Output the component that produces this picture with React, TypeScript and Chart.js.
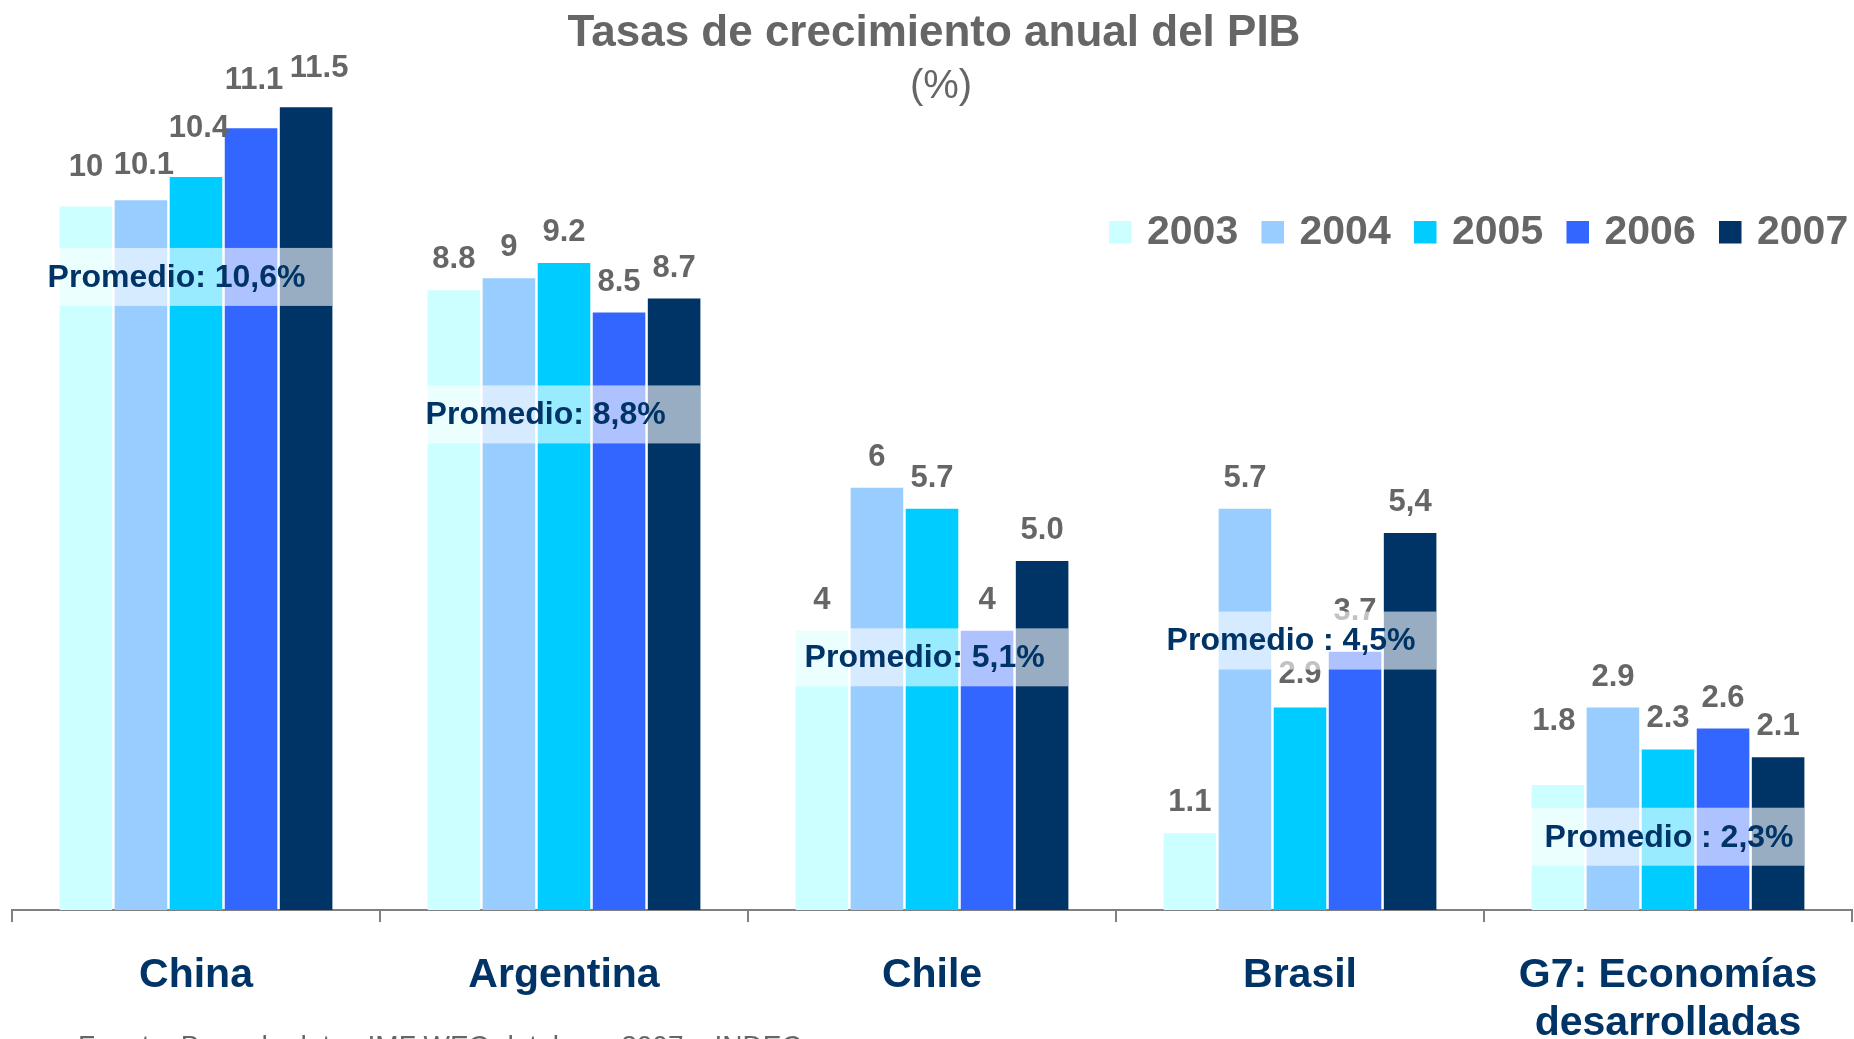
import React, { useEffect, useRef } from "react";
import { Chart, registerables } from "chart.js";

Chart.register(...registerables);

const FONT = "'Liberation Sans', Arial, Helvetica, sans-serif";

const categories: (string | string[])[] = ["China", "Argentina", "Chile", "Brasil", ["G7: Economías", "desarrolladas"]];
const years = ["2003", "2004", "2005", "2006", "2007"];

// bar heights
const values2003 = [10.08, 8.88, 4, 1.1, 1.79];
const values2004 = [10.17, 9.05, 6.05, 5.75, 2.9];
const values2005 = [10.5, 9.27, 5.75, 2.9, 2.3];
const values2006 = [11.2, 8.56, 4, 3.7, 2.6];
const values2007 = [11.5, 8.76, 5.0, 5.4, 2.19];

// printed value labels
const labels2003 = ["10", "8.8", "4", "1.1", "1.8"];
const labels2004 = ["10.1", "9", "6", "5.7", "2.9"];
const labels2005 = ["10.4", "9.2", "5.7", "2.9", "2.3"];
const labels2006 = ["11.1", "8.5", "4", "3.7", "2.6"];
const labels2007 = ["11.5", "8.7", "5.0", "5,4", "2.1"];

const promedioTexts = ["Promedio: 10,6%", "Promedio: 8,8%", "Promedio: 5,1%", "Promedio : 4,5%", "Promedio : 2,3%"];
const promedioAt = [9.07, 7.1, 3.62, 3.86, 1.05];

const titleText = "Tasas de crecimiento anual del PIB";
const subtitleText = "(%)";
const sourceText = "Fuente: Base de datos IMF WEO database 2007 e INDEC";

const colors = ["#CCFFFF", "#99CCFF", "#00CCFF", "#3366FF", "#003366"];
const allValues = [values2003, values2004, values2005, values2006, values2007];
const allLabels = [labels2003, labels2004, labels2005, labels2006, labels2007];

// label placement tweaks (pixels), per year then per category
const labelLift = [
  [8, 0, 0, 0, 33],
  [4, 0, 0, 0, 0],
  [18, 0, 0, 3, 0],
  [17, 0, 0, 10, 0],
  [8, 0, 0, 0, 0],
];
const labelShiftX = [
  [0, 0, 0, 0, -4],
  [3, 0, 0, 0, 0],
  [3, 0, 0, 0, 0],
  [3, 0, 0, 0, 0],
  [13, 0, 0, 0, 0],
];
const promedioTextShift = [-12, -2, 9, 3, 13];

const overlayPlugin = {
  id: "overlay",
  afterDatasetsDraw(chart: any) {
    const ctx = chart.ctx;
    const yScale = chart.scales.y;
    ctx.save();
    ctx.fillStyle = "#666666";
    ctx.font = `bold 31px ${FONT}`;
    ctx.textAlign = "center";
    ctx.textBaseline = "alphabetic";
    chart.data.datasets.forEach((ds: any, di: number) => {
      const meta = chart.getDatasetMeta(di);
      meta.data.forEach((bar: any, i: number) => {
        ctx.fillText(allLabels[di][i], bar.x + labelShiftX[di][i], bar.y - 22 - labelLift[di][i]);
      });
    });
    const nCat = categories.length;
    for (let i = 0; i < nCat; i++) {
      const first = chart.getDatasetMeta(0).data[i];
      const last = chart.getDatasetMeta(chart.data.datasets.length - 1).data[i];
      const left = first.x - first.width / 2;
      const right = last.x + last.width / 2;
      const cy = yScale.getPixelForValue(promedioAt[i]);
      const h = 58;
      ctx.fillStyle = "rgba(255,255,255,0.6)";
      ctx.fillRect(left, cy - h / 2, right - left, h);
      ctx.fillStyle = "#003366";
      ctx.font = `bold 32px ${FONT}`;
      ctx.textAlign = "left";
      ctx.textBaseline = "middle";
      ctx.fillText(promedioTexts[i], left + promedioTextShift[i], cy + 1);
    }
    ctx.restore();
  },
  afterDraw(chart: any) {
    const ctx = chart.ctx;
    ctx.save();
    ctx.fillStyle = "#666666";
    ctx.textAlign = "center";
    ctx.textBaseline = "middle";
    ctx.font = `bold 44px ${FONT}`;
    ctx.fillText(titleText, 934, 34);
    ctx.font = `40px ${FONT}`;
    ctx.fillText(subtitleText, 941, 87);
    ctx.font = `bold 41px ${FONT}`;
    ctx.textAlign = "left";
    years.forEach((y, i) => {
      const x0 = 1109 + i * 152.5;
      ctx.fillStyle = colors[i];
      ctx.fillRect(x0, 221, 22.5, 22.5);
      ctx.fillStyle = "#666666";
      ctx.fillText(y, x0 + 38, 233);
    });
    ctx.font = `28px ${FONT}`;
    ctx.textBaseline = "alphabetic";
    ctx.fillStyle = "#666666";
    ctx.fillText(sourceText, 78, 1055);
    ctx.restore();
  },
};

export default function App() {
  const canvasRef = useRef<HTMLCanvasElement | null>(null);

  useEffect(() => {
    document.body.style.margin = "0";
    document.body.style.overflow = "hidden";
    const canvas = canvasRef.current;
    if (!canvas) return;
    const chart = new Chart(canvas, {
      type: "bar",
      data: {
        labels: categories as any,
        datasets: years.map((y, i) => ({
          label: y,
          data: allValues[i],
          backgroundColor: colors[i],
          borderWidth: 0,
          categoryPercentage: 0.748,
          barPercentage: 0.955,
        })),
      },
      options: {
        responsive: false,
        animation: false,
        devicePixelRatio: 1,
        layout: { padding: { top: 37.5, left: 12, right: 2, bottom: 0 } },
        plugins: {
          legend: { display: false },
          title: { display: false },
          tooltip: { enabled: false },
        },
        scales: {
          x: {
            offset: true,
            grid: {
              offset: true,
              drawOnChartArea: false,
              drawTicks: true,
              tickLength: 12,
              color: "#808080",
              lineWidth: 2,
            },
            border: { display: true, color: "#808080", width: 2 },
            ticks: {
              color: "#003366",
              font: { family: FONT, size: 41, weight: "bold", lineHeight: 1.17 },
              padding: 29.5,
              maxRotation: 0,
              autoSkip: false,
            },
            afterFit: (s: any) => {
              s.height = 129;
            },
          },
          y: { display: false, min: 0, max: 12.5 },
        },
      } as any,
      plugins: [overlayPlugin],
    });
    return () => chart.destroy();
  }, []);

  return (
    <div style={{ width: 1854, height: 1039, overflow: "hidden" }}>
      <canvas ref={canvasRef} width={1854} height={1039} style={{ display: "block" }} />
    </div>
  );
}
